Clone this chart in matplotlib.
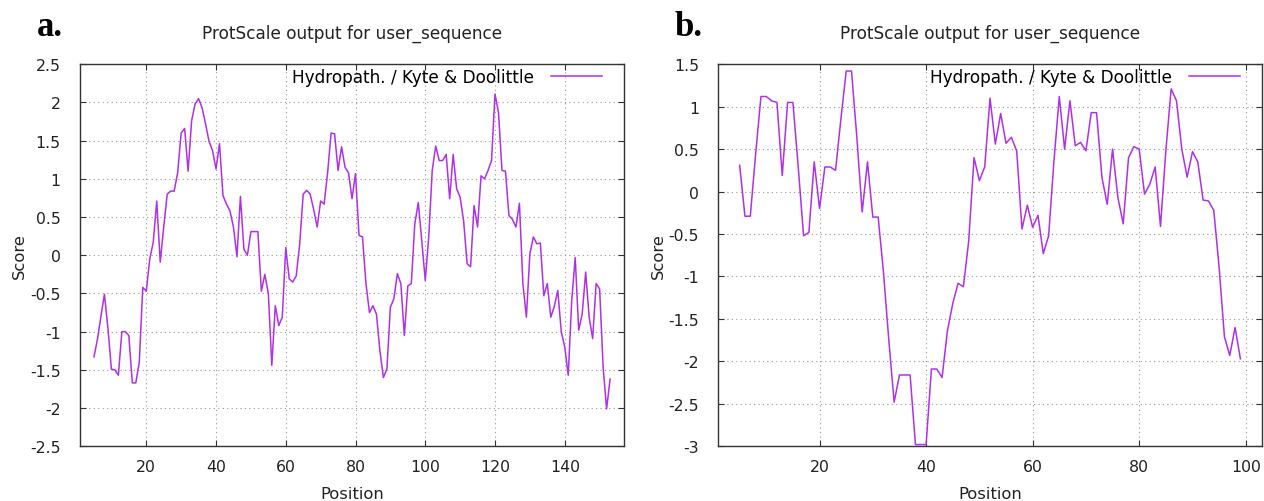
import matplotlib
matplotlib.use("Agg")
import matplotlib.pyplot as plt
from matplotlib.ticker import MultipleLocator, FormatStrFormatter


LINE_COLOR = "#b030e8"
FRAME_COLOR = "#333333"
TEXT_COLOR = "#222222"

# panel a: window of 9, sequence length 157
pos_a = list(range(5, 154))
score_a = [
    -1.33, -1.10, -0.80, -0.51, -0.95, -1.49, -1.50, -1.57, -1.00, -1.00,
    -1.05, -1.67, -1.67, -1.40, -0.42, -0.47, -0.05, 0.17, 0.71, -0.09,
    0.37, 0.80, 0.84, 0.84, 1.08, 1.60, 1.66, 1.10, 1.76, 1.98,
    2.05, 1.93, 1.72, 1.49, 1.37, 1.13, 1.46, 0.78, 0.67, 0.58,
    0.37, -0.02, 0.77, 0.08, 0.00, 0.31, 0.31, 0.31, -0.47, -0.25,
    -0.50, -1.44, -0.66, -0.92, -0.81, 0.10, -0.31, -0.35, -0.27, 0.15,
    0.80, 0.85, 0.80, 0.60, 0.37, 0.71, 0.67, 1.08, 1.60, 1.59,
    1.11, 1.42, 1.15, 1.08, 0.74, 1.07, 0.26, 0.24, -0.37, -0.75,
    -0.66, -0.77, -1.25, -1.60, -1.49, -0.68, -0.57, -0.24, -0.37, -1.05,
    -0.40, -0.37, 0.41, 0.69, 0.19, -0.33, 0.24, 1.11, 1.43, 1.24,
    1.24, 1.32, 0.74, 1.32, 0.87, 0.76, 0.45, -0.11, -0.15, 0.65,
    0.37, 1.04, 1.00, 1.11, 1.24, 2.11, 1.87, 1.11, 1.10, 0.52,
    0.47, 0.37, 0.68, -0.37, -0.81, 0.02, 0.24, 0.15, 0.16, -0.53,
    -0.37, -0.81, -0.67, -0.46, -1.00, -1.20, -1.57, -0.59, -0.03, -0.98,
    -0.77, -0.22, -0.81, -1.09, -0.37, -0.44, -1.46, -2.01, -1.62,
]

# panel b: window of 9, sequence length 103
pos_b = list(range(5, 100))
score_b = [
    0.31, -0.29, -0.29, 0.44, 1.12, 1.12, 1.07, 1.05, 0.19, 1.05,
    1.05, 0.29, -0.52, -0.48, 0.35, -0.20, 0.29, 0.29, 0.25, 0.85,
    1.42, 1.42, 0.64, -0.24, 0.35, -0.30, -0.30, -0.95, -1.75, -2.48,
    -2.16, -2.16, -2.16, -2.98, -2.98, -2.98, -2.09, -2.09, -2.19, -1.64,
    -1.32, -1.08, -1.12, -0.58, 0.40, 0.13, 0.29, 1.10, 0.56, 0.92,
    0.57, 0.64, 0.48, -0.44, -0.16, -0.42, -0.28, -0.73, -0.52, 0.36,
    1.12, 0.50, 1.07, 0.54, 0.58, 0.48, 0.93, 0.93, 0.17, -0.15,
    0.50, -0.07, -0.38, 0.40, 0.53, 0.50, -0.03, 0.09, 0.29, -0.41,
    0.48, 1.21, 1.07, 0.50, 0.17, 0.47, 0.35, -0.10, -0.11, -0.22,
    -0.89, -1.71, -1.93, -1.60, -1.97,
]

TITLE = "ProtScale output for user_sequence"
LEGEND_LABEL = "Hydropath. / Kyte & Doolittle"


def style_axes(ax, xmax, ylim):
    ax.set_xlim(1, xmax)
    ax.set_ylim(*ylim)
    ax.xaxis.set_major_locator(MultipleLocator(20))
    ax.yaxis.set_major_locator(MultipleLocator(0.5))
    ax.yaxis.set_major_formatter(FormatStrFormatter("%g"))
    ax.grid(True, linestyle=(0, (1, 3)), color="#999999", linewidth=0.8)
    ax.tick_params(direction="in", length=4, width=0.8, color=FRAME_COLOR,
                   top=True, right=True, labelsize=11.3, labelcolor=TEXT_COLOR,
                   pad=9)
    ax.tick_params(axis="y", pad=14)
    for spine in ax.spines.values():
        spine.set_color(FRAME_COLOR)
        spine.set_linewidth(1.0)
    ax.set_xlabel("Position", fontsize=11.8, color=TEXT_COLOR)
    ax.set_ylabel("Score", fontsize=11.8, color=TEXT_COLOR)
    ax.xaxis.set_label_coords(0.5, -0.105)
    ax.yaxis.set_label_coords(-0.097, 0.5)
    ax.text(0.5, 1.081, TITLE, transform=ax.transAxes, ha="center",
            va="center", fontsize=12.2, color=TEXT_COLOR)


def draw_panel(ax, pos, score, xmax, ylim, letter):
    ax.plot(pos, score, color=LINE_COLOR, linewidth=1.1, label=LEGEND_LABEL)
    style_axes(ax, xmax, ylim)
    ax.legend(loc="upper right", bbox_to_anchor=(0.96, 0.99), frameon=False,
              markerfirst=False, fontsize=12.2, handlelength=3.0,
              borderaxespad=0.0, borderpad=0.0, handletextpad=1.0)
    ax.text(-0.08, 1.10, letter, transform=ax.transAxes, ha="left",
            va="center", fontsize=25, fontweight="bold",
            family="Liberation Serif", color="black")


def main():
    fig = plt.figure(figsize=(12.64, 5.02), dpi=100)
    ax_a = fig.add_axes([0.0633, 0.109, 0.4304, 0.761])
    ax_b = fig.add_axes([0.5683, 0.109, 0.4299, 0.761])

    draw_panel(ax_a, pos_a, score_a, 157, (-2.5, 2.5), "a.")
    draw_panel(ax_b, pos_b, score_b, 103, (-3, 1.5), "b.")

    fig.savefig("out.png", dpi=100, facecolor="white")
    plt.close(fig)


if __name__ == "__main__":
    main()
